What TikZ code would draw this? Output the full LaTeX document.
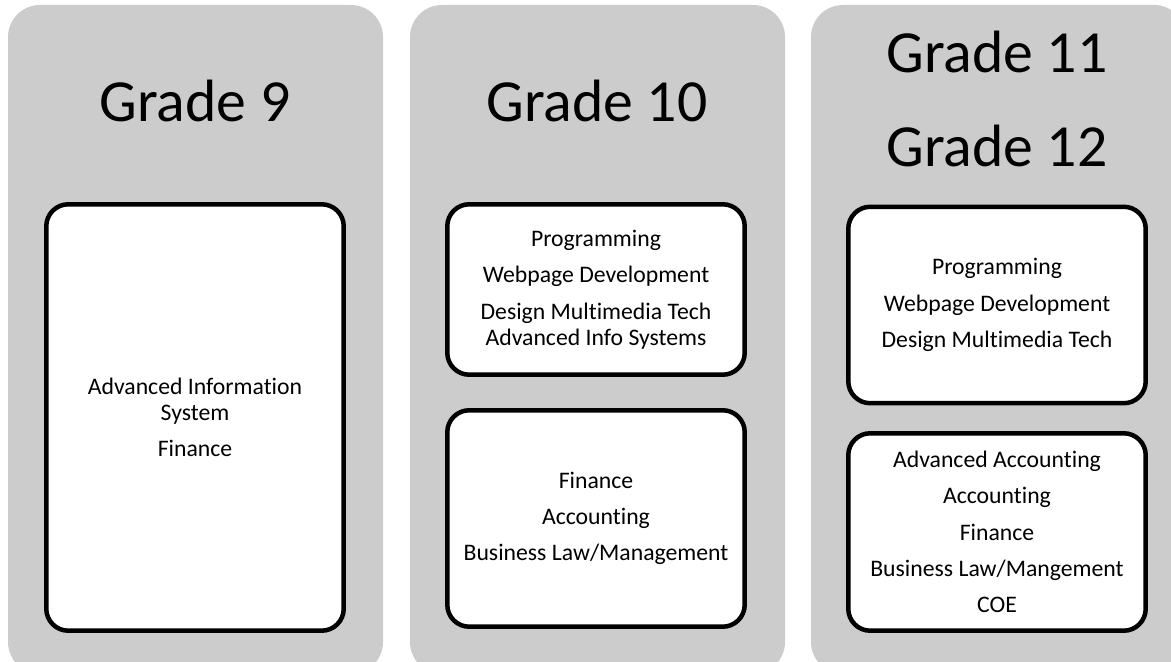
\documentclass[tikz,border=0pt]{standalone}
\usepackage{fontspec}
\setmainfont{Carlito}[Ligatures=NoCommon]
\definecolor{panelgrey}{HTML}{CCCCCC}
\begin{document}
\begin{tikzpicture}[x=0.02cm, y=-0.02cm,
    panel/.style={fill=panelgrey, rounded corners=0.64cm},
    course/.style={draw, fill=white, line width=0.09cm, rounded corners=0.44cm,
      minimum width=5.95cm, align=center, inner sep=0pt,
      font=\fontsize{13.5}{14.7}\selectfont},
    grade/.style={anchor=base, font=\fontsize{34}{40}\selectfont}]
      \useasboundingbox (0, 0) rectangle (1171, 662);
      \begin{scope}
        \clip (0, 0) rectangle (1171, 662);
        \fill [panel] (8, 5) rectangle (383, 674);
        \fill [panel] (410, 5) rectangle (785, 674);
        \fill [panel] (811, 5) rectangle (1186, 674);
      \end{scope}
      \node [grade] (g9) at (195, 122) {Grade 9};
      \node [grade] (g10) at (597, 122) {Grade 10};
      \node [grade] (g11) at (997, 73) {Grade 11};
      \node [grade] (g12) at (997, 167) {Grade 12};
      \node [course, minimum height=8.53cm] (info9) at (195, 417.5)
        {Advanced Information\\System\\[6pt]Finance};
      \node [course, minimum height=3.41cm] (tech10) at (596, 289.5)
        {Programming\\[6pt]Webpage Development\\[6pt]Design Multimedia Tech\\Advanced Info Systems};
      \node [course, minimum height=4.33cm] (bus10) at (596, 518.5)
        {Finance\\[6pt]Accounting\\[6pt]Business Law/Management};
      \node [course, minimum height=3.93cm] (tech12) at (997, 305)
        {Programming\\[6pt]Webpage Development\\[6pt]Design Multimedia Tech};
      \node [course, minimum height=3.95cm] (bus12) at (997, 532)
        {Advanced Accounting\\[6pt]Accounting\\[6pt]Finance\\[6pt]Business Law/Mangement\\[6pt]COE};
    \end{tikzpicture}
\end{document}
